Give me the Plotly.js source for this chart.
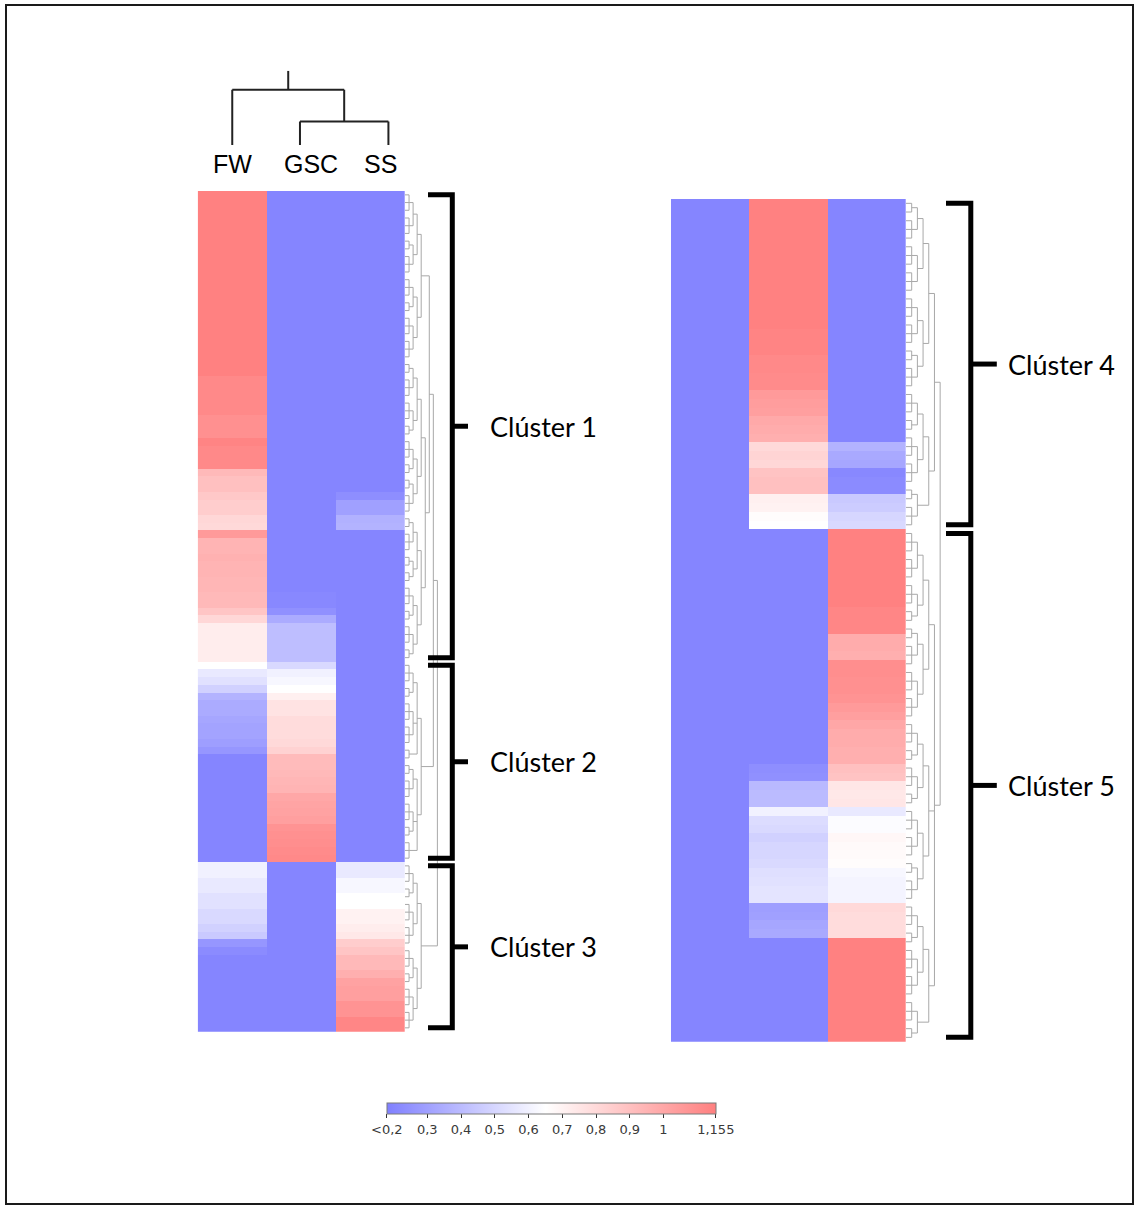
<!DOCTYPE html>
<html><head><meta charset="utf-8">
<script src="https://cdn.plot.ly/plotly-3.0.1.min.js"></script>
<style>html,body{margin:0;padding:0;background:#fff;}#chart{width:1134px;height:1207px;}</style>
</head><body><div id="chart"></div>
<script>
// ---------- data ----------
const columns = ['FW', 'GSC', 'SS'];
const colLabelPos = [0, 1.14, 2.14];
const colLeafPos = [0, 0.98, 2.26];
const colTree = {h: 2.34, children: [0, {h: 1, children: [1, 2]}]};
const colRootTop = 3.15;

// left heatmap (clusters 1-3), one value per row
const leftFW = [
  1.15,1.15,1.15,1.15,1.15,1.15,1.15,1.15,1.15,1.15,1.15,1.15,1.15,1.15,1.15,1.15,1.15,1.15,1.15,1.15,1.15,1.15,1.15,1.15,
  1.12,1.12,1.12,1.12,1.12, 1.09,1.09,1.09, 1.14, 1.12,1.12,1.12,
  0.93, 0.90,0.90, 0.87, 0.85,0.85, 0.81,0.80, 1.05,
  0.95,0.95,0.96,0.95,0.95,0.94,0.94,0.93,0.93, 0.88, 0.81, 0.72,0.72,0.72,0.72,0.72,
  0.65, 0.57,0.54,0.48,0.37,0.34,0.34,0.32,0.31,0.31,0.29,0.26,
  0.2,0.2,0.2,0.2,0.2,0.2,0.2,0.2,0.2,0.2,0.2,0.2,0.2,0.2,
  0.60,0.60,0.57,0.57,0.54,0.54,0.51,0.51,0.48,0.45,0.26,0.22,
  0.2,0.2,0.2,0.2,0.2,0.2,0.2,0.2,0.2,0.2
];
const leftGSC = [
  0.2,0.2,0.2,0.2,0.2,0.2,0.2,0.2,0.2,0.2,0.2,0.2,0.2,0.2,0.2,0.2,0.2,0.2,0.2,0.2,0.2,0.2,0.2,0.2,0.2,0.2,
  0.2,0.2,0.2,0.2,0.2,0.2,0.2,0.2,0.2,0.2,0.2,0.2,0.2,0.2,0.2,0.2,0.2,0.2,0.2,0.2,0.2,0.2,0.2,0.2,0.2,0.2,
  0.21,0.21, 0.24, 0.34, 0.41,0.41,0.41,0.41,0.41,
  0.51, 0.60,0.62,0.65,0.71,0.76,0.76,0.79,0.79,0.79,0.80,0.83,
  0.92,0.92,0.93,0.94,0.95, 1.00,1.01,1.02,1.03, 1.08,1.09,1.10,1.11,1.12,
  0.2,0.2,0.2,0.2,0.2,0.2,0.2,0.2,0.2,0.2,0.2,0.2,0.2,0.2,0.2,0.2,0.2,0.2,0.2,0.2,0.2,0.2
];
const leftSS = [
  0.2,0.2,0.2,0.2,0.2,0.2,0.2,0.2,0.2,0.2,0.2,0.2,0.2,0.2,0.2,0.2,0.2,0.2,0.2,0.2,
  0.2,0.2,0.2,0.2,0.2,0.2,0.2,0.2,0.2,0.2,0.2,0.2,0.2,0.2,0.2,0.2,0.2,0.2,0.2,
  0.23, 0.30,0.30, 0.36, 0.37,
  0.2,0.2,0.2,0.2,0.2,0.2,0.2,0.2,0.2,0.2,0.2,0.2,0.2,0.2,0.2,0.2,0.2,0.2,0.2,0.2,0.2,
  0.2,0.2,0.2,0.2,0.2,0.2,0.2,0.2,0.2,0.2,0.2,0.2,0.2,0.2,0.2,0.2,0.2,0.2,0.2,0.2,0.2,0.2,
  0.57,0.57,0.62,0.62,0.65,0.65,0.70,0.70,0.72,0.74,0.85,0.88,0.93,0.93,0.97,1.02,1.03,1.03,1.08,1.08,1.13,1.13
];
// right heatmap (clusters 4-5)
const rightFW = [
  0.2,0.2,0.2,0.2,0.2,0.2,0.2,0.2,0.2,0.2,0.2,0.2,0.2,0.2,0.2,0.2,0.2,0.2,0.2,0.2,
  0.2,0.2,0.2,0.2,0.2,0.2,0.2,0.2,0.2,0.2,0.2,0.2,0.2,0.2,0.2,0.2,0.2,0.2,0.2,0.2,
  0.2,0.2,0.2,0.2,0.2,0.2,0.2,0.2,0.2,0.2,0.2,0.2,0.2,0.2,0.2,0.2,0.2,0.2,0.2,0.2,
  0.2,0.2,0.2,0.2,0.2,0.2,0.2,0.2,0.2,0.2,0.2,0.2,0.2,0.2,0.2,0.2,0.2,0.2,0.2,0.2,
  0.2,0.2,0.2,0.2,0.2,0.2,0.2,0.2,0.2,0.2,0.2,0.2,0.2,0.2,0.2,0.2,0.2
];
const rightGSC = [
  1.15,1.15,1.15,1.15,1.15,1.15,1.15,1.15,1.15,1.15,1.15,1.15,1.15,1.15,1.15,
  1.14,1.14,1.14, 1.12,1.12,1.11,1.11, 1.05,1.04,1.03, 0.99,0.98,0.97,
  0.80,0.82,0.81, 0.89,0.90,0.90, 0.71,0.70, 0.66,0.65,
  0.2,0.2,0.2,0.2,0.2,0.2,0.2,0.2,0.2,0.2,0.2,0.2,0.2,0.2,0.2,0.2,0.2,0.2,0.2,0.2,0.2,0.2,0.2,0.2,0.2,0.2,0.2,
  0.23,0.24, 0.39,0.40,0.40, 0.60, 0.52,0.51, 0.48, 0.50,0.50,0.51, 0.53,0.54,0.55,0.55, 0.29,0.30,0.32,0.33,
  0.2,0.2,0.2,0.2,0.2,0.2,0.2,0.2,0.2,0.2,0.2,0.2
];
const rightSS = [
  0.2,0.2,0.2,0.2,0.2,0.2,0.2,0.2,0.2,0.2,0.2,0.2,0.2,0.2,0.2,0.2,0.2,0.2,0.2,0.2,0.2,0.2,0.2,0.2,0.2,0.2,0.2,0.2,
  0.37, 0.33,0.32, 0.21,0.22,0.22, 0.45,0.46, 0.50,0.51,
  1.15,1.15,1.15,1.15,1.15,1.15,1.15,1.15,1.15, 1.13,1.13,1.13,
  0.98,0.98,0.97, 1.10,1.10,1.09,1.09,1.08, 1.05,1.03, 1.00,0.98,0.98,0.97,0.97,
  0.90,0.89, 0.75,0.74,0.75, 0.57, 0.64,0.64, 0.68, 0.67,0.67,0.66, 0.62,0.61,0.61,0.61, 0.80,0.79,0.79,0.79,
  1.15,1.15,1.15,1.15,1.15,1.15,1.15,1.15,1.15,1.15,1.15,1.15
];

const leftClusters = ['Clúster 1', 'Clúster 2', 'Clúster 3'];
const leftClusterSizes = [61, 26, 22];
const rightClusters = ['Clúster 4', 'Clúster 5'];
const rightClusterSizes = [38, 59];

// row dendrograms: numbers = groups of adjacent leaves, arrays = merges
const leftTree = [
  [
    [[[[3,3],[2,3]], [[3,2],[3,3]]], [[[[2,3],[3,2]], [[3,2],[2,3]]], [[[2,3],[2,2]], [[3,2],[3,2]]]]],
    [[[3,2],[3,3],2], [[2,3],[3,2],3]]
  ],
  [[[3,2],[3,3]], [[3,2],[3,3]]]
];
const rightTree = [
  [[[[2,3],[3,3]], [[3,3],[2,3]]], [[[3,2],[3,3]], [2,3]]],
  [[[[3,3],[3,2]], [[2,3],[3,3]]], [[[3,2],[3,2]], [[3,3],[2,3]]], [[[3,2],[3,3]], [3,2]]]
];

const zMin = 0.18, zMax = 1.155, zWhite = 0.65;
const cbTickVals = [0.18, 0.3, 0.4, 0.5, 0.6, 0.7, 0.8, 0.9, 1, 1.155];
const cbTickText = ['<0,2', '0,3', '0,4', '0,5', '0,6', '0,7', '0,8', '0,9', '1', '1,155'];

// ---------- helpers ----------
const W = 1134, H = 1207;
const fx = p => p / W, fy = p => 1 - p / H;

function buildZ(a, b, c) { return a.map((v, i) => [v, b[i], c[i]]); }

function rowDendro(tree) {
  const xs = [], ys = []; let next = 0;
  const seg = (x0, y0, x1, y1) => { xs.push(x0, x1, null); ys.push(y0, y1, null); };
  function walk(node) {
    if (typeof node === 'number') {
      const s = next; next += node;
      if (node === 1) return {pos: s, h: 0};
      for (let i = s; i < s + node; i++) seg(0, i, 1, i);
      seg(1, s, 1, s + node - 1);
      return {pos: (2 * s + node - 1) / 2, h: 1};
    }
    const kids = node.map(walk);
    const Hh = 1 + Math.max(...kids.map(k => k.h));
    kids.forEach(k => seg(k.h, k.pos, Hh, k.pos));
    const p0 = kids[0].pos, p1 = kids[kids.length - 1].pos;
    seg(Hh, p0, Hh, p1);
    return {pos: (p0 + p1) / 2, h: Hh};
  }
  const r = walk(tree);
  return {x: xs, y: ys, h: r.h};
}

function colDendro(tree) {
  const xs = [], ys = [];
  const seg = (x0, y0, x1, y1) => { xs.push(x0, x1, null); ys.push(y0, y1, null); };
  function walk(node) {
    if (typeof node === 'number') return {pos: colLeafPos[node], h: 0};
    const kids = node.children.map(walk);
    kids.forEach(k => seg(k.pos, k.h, k.pos, node.h));
    const p0 = kids[0].pos, p1 = kids[kids.length - 1].pos;
    seg(p0, node.h, p1, node.h);
    return {pos: (p0 + p1) / 2, h: node.h};
  }
  const r = walk(tree);
  seg(r.pos, r.h, r.pos, colRootTop);
  return {x: xs, y: ys};
}

function brackets(sizes, armLen, tickLen) {
  const xs = [], ys = [], mids = []; let s = 0;
  sizes.forEach(n => {
    const a = s, b = s + n - 1, m = (a + b) / 2;
    xs.push(0, armLen, armLen, 0, null, armLen, armLen + tickLen, null);
    ys.push(a, a, b, b, null, m, m, null);
    mids.push(m); s += n;
  });
  return {x: xs, y: ys, mids};
}

const colorscale = [[0, '#8080ff'], [(zWhite - zMin) / (zMax - zMin), '#ffffff'], [1, '#ff8080']];
const leftRows = leftFW.map((_, i) => i);
const rightRows = rightFW.map((_, i) => i);

const ld = rowDendro(leftTree), rd = rowDendro(rightTree), cd = colDendro(colTree);
const lb = brackets(leftClusterSizes, 24.3, 15.7);
const rb = brackets(rightClusterSizes, 24.8, 26);

const traces = [
  {type: 'heatmap', z: buildZ(leftFW, leftGSC, leftSS), x: [0, 1, 2], y: leftRows, xaxis: 'x', yaxis: 'y',
   colorscale, zmin: zMin, zmax: zMax, hoverinfo: 'skip', showscale: true,
   colorbar: {orientation: 'h', x: fx(551.3), xanchor: 'center', y: fy(1102.5), yanchor: 'top',
     len: 329, lenmode: 'pixels', thickness: 11, thicknessmode: 'pixels',
     outlinewidth: 1, outlinecolor: '#7a7a7a', tickvals: cbTickVals, ticktext: cbTickText,
     ticks: 'outside', ticklen: 4, tickwidth: 1, tickcolor: '#333',
     tickfont: {family: 'DejaVu Sans', size: 13, color: '#3a3a3a'}, xpad: 0, ypad: 0}},
  {type: 'heatmap', z: buildZ(rightFW, rightGSC, rightSS), x: [0, 1, 2], y: rightRows, xaxis: 'x2', yaxis: 'y2',
   colorscale, zmin: zMin, zmax: zMax, hoverinfo: 'skip', showscale: false},
  {type: 'scatter', mode: 'lines', x: ld.x, y: ld.y, xaxis: 'x3', yaxis: 'y',
   line: {color: '#a8a8a8', width: 1}, hoverinfo: 'skip'},
  {type: 'scatter', mode: 'lines', x: rd.x, y: rd.y, xaxis: 'x4', yaxis: 'y2',
   line: {color: '#a8a8a8', width: 1}, hoverinfo: 'skip'},
  {type: 'scatter', mode: 'lines', x: lb.x, y: lb.y, xaxis: 'x5', yaxis: 'y',
   line: {color: '#000', width: 5}, hoverinfo: 'skip'},
  {type: 'scatter', mode: 'lines', x: rb.x, y: rb.y, xaxis: 'x6', yaxis: 'y2',
   line: {color: '#000', width: 5}, hoverinfo: 'skip'},
  {type: 'scatter', mode: 'lines', x: cd.x, y: cd.y, xaxis: 'x7', yaxis: 'y7',
   line: {color: '#222', width: 2}, hoverinfo: 'skip'}
];

const hid = {visible: false, fixedrange: true};
const annotations = [];
columns.forEach((c, i) => annotations.push({
  text: c, x: colLabelPos[i], xref: 'x', y: fy(164), yref: 'paper', xanchor: 'center', yanchor: 'middle',
  showarrow: false, font: {family: 'Liberation Sans, Arial, sans-serif', size: 25, color: '#000'}}));
leftClusters.forEach((c, i) => annotations.push({
  text: c, x: fx(488), xref: 'paper', y: lb.mids[i], yref: 'y', xanchor: 'left', yanchor: 'middle',
  showarrow: false, font: {family: 'Lato, sans-serif', size: 27, color: '#000'}}));
rightClusters.forEach((c, i) => annotations.push({
  text: c, x: fx(1006), xref: 'paper', y: rb.mids[i], yref: 'y2', xanchor: 'left', yanchor: 'middle',
  showarrow: false, font: {family: 'Lato, sans-serif', size: 27, color: '#000'}}));

const layout = {
  width: W, height: H, margin: {l: 0, r: 0, t: 0, b: 0},
  paper_bgcolor: '#ffffff', plot_bgcolor: 'rgba(0,0,0,0)', showlegend: false,
  xaxis: {...hid, domain: [fx(197.7), fx(405)], range: [-0.5, 2.5], anchor: 'y'},
  yaxis: {...hid, domain: [fy(1031.7), fy(191)], range: [leftRows.length - 0.5, -0.5], anchor: 'x'},
  xaxis2: {...hid, domain: [fx(671), fx(905.7)], range: [-0.5, 2.5], anchor: 'y2'},
  yaxis2: {...hid, domain: [fy(1041.7), fy(199)], range: [rightRows.length - 0.5, -0.5], anchor: 'x2'},
  xaxis3: {...hid, domain: [fx(405), fx(438)], range: [0, ld.h + 0.15], anchor: 'y'},
  xaxis4: {...hid, domain: [fx(906), fx(941)], range: [0, rd.h + 0.15], anchor: 'y2'},
  xaxis5: {...hid, domain: [fx(428), fx(468)], range: [0, 40], anchor: 'y'},
  xaxis6: {...hid, domain: [fx(946), fx(997)], range: [0, 51], anchor: 'y2'},
  xaxis7: {...hid, domain: [fx(197.7), fx(405)], range: [-0.5, 2.5], anchor: 'y7'},
  yaxis7: {...hid, domain: [fy(145), fy(70.7)], range: [0, colRootTop], anchor: 'x7'},
  annotations,
  shapes: [{type: 'rect', xref: 'paper', yref: 'paper', x0: fx(6), x1: fx(1133), y0: fy(1204), y1: fy(5),
    line: {color: '#1a1a1a', width: 2}, fillcolor: 'rgba(0,0,0,0)'}]
};

Plotly.newPlot('chart', traces, layout, {staticPlot: true, displayModeBar: false});
</script>
</body></html>
